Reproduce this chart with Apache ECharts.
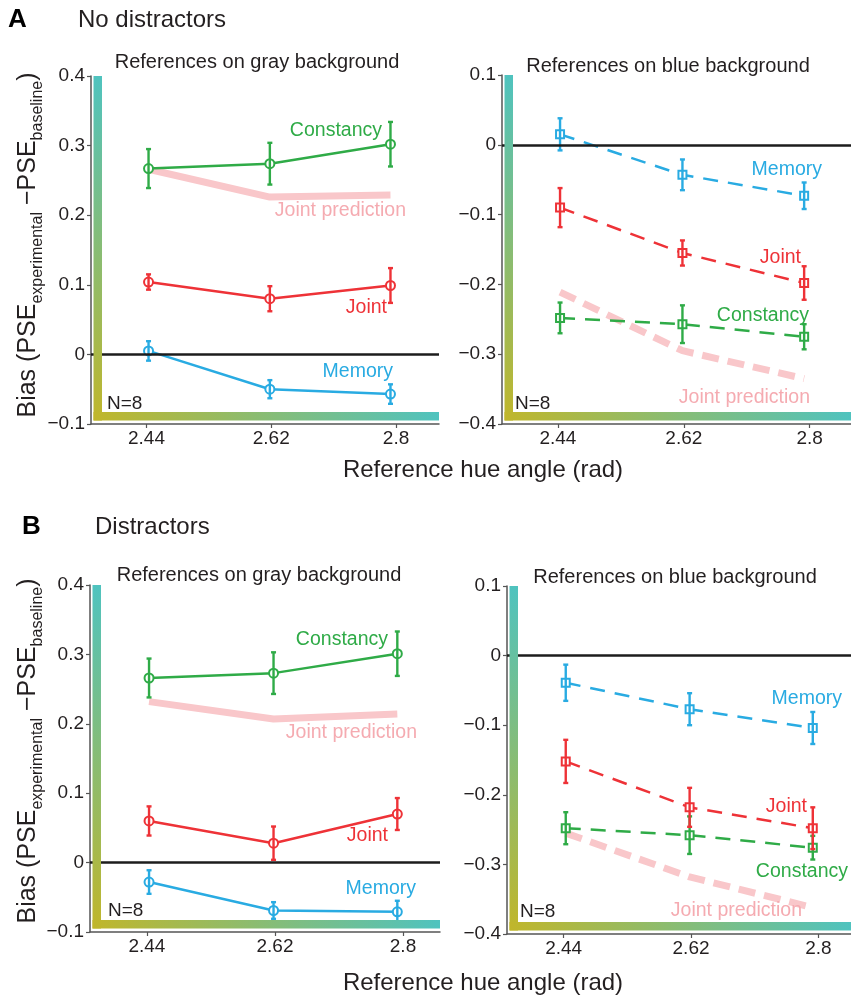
<!DOCTYPE html>
<html>
<head>
<meta charset="utf-8">
<script src="https://cdn.jsdelivr.net/npm/echarts@6/dist/echarts.min.js"></script>
<style>
html,body{margin:0;padding:0;background:#fff;}
#chart{width:851px;height:996px;}
</style>
</head>
<body>
<div id="chart"></div>
<script>
// ---------- data ----------
const hueAngles = [2.443, 2.618, 2.792];
const tickValues = [2.44, 2.62, 2.8];

// A: No distractors, gray background
const aGrayConstancy = [0.267, 0.274, 0.302];
const aGrayConstancyErr = [0.028, 0.030, 0.032];
const aGrayJoint = [0.104, 0.080, 0.099];
const aGrayJointErr = [0.011, 0.018, 0.025];
const aGrayMemory = [0.005, -0.050, -0.057];
const aGrayMemoryErr = [0.014, 0.013, 0.014];
const aGrayPrediction = [0.266, 0.226, 0.229];

// A: No distractors, blue background
const aBlueMemory = [0.015, -0.043, -0.073];
const aBlueMemoryErr = [0.023, 0.022, 0.019];
const aBlueJoint = [-0.090, -0.155, -0.198];
const aBlueJointErr = [0.028, 0.018, 0.024];
const aBlueConstancy = [-0.248, -0.257, -0.275];
const aBlueConstancyErr = [0.022, 0.027, 0.018];
const aBluePrediction = [-0.211, -0.295, -0.335];

// B: Distractors, gray background
const bGrayConstancy = [0.266, 0.273, 0.301];
const bGrayConstancyErr = [0.028, 0.030, 0.032];
const bGrayJoint = [0.060, 0.028, 0.070];
const bGrayJointErr = [0.021, 0.024, 0.023];
const bGrayMemory = [-0.028, -0.069, -0.071];
const bGrayMemoryErr = [0.017, 0.012, 0.016];
const bGrayPrediction = [0.232, 0.207, 0.214];

// B: Distractors, blue background
const bBlueMemory = [-0.039, -0.077, -0.104];
const bBlueMemoryErr = [0.026, 0.023, 0.023];
const bBlueJoint = [-0.152, -0.218, -0.248];
const bBlueJointErr = [0.031, 0.028, 0.030];
const bBlueConstancy = [-0.248, -0.258, -0.276];
const bBlueConstancyErr = [0.023, 0.027, 0.017];
const bBluePrediction = [-0.255, -0.318, -0.362];

// ---------- styles ----------
const FONT = 'Liberation Sans, Arial, Helvetica, sans-serif';
const C_GREEN = '#2fab47';
const C_RED = '#ee3237';
const C_CYAN = '#29abe2';
const C_PINK = '#f9c7ca';
const C_PINK_TXT = '#f5abb1';
const C_TEXT = '#231f20';
const C_AXIS = '#555';
const TEAL = '#4fc3bf';
const OLIVE = '#c0b62b';

const panels = [
  { rect: {left: 91, top: 76, width: 348, height: 348}, yMin: -0.1, yMax: 0.4, xMax: 2.862, dashed: false,
    constancy: [aGrayConstancy, aGrayConstancyErr], joint: [aGrayJoint, aGrayJointErr],
    memory: [aGrayMemory, aGrayMemoryErr], prediction: aGrayPrediction },
  { rect: {left: 502, top: 75, width: 349, height: 349}, yMin: -0.4, yMax: 0.1, xMax: 2.859, dashed: true,
    constancy: [aBlueConstancy, aBlueConstancyErr], joint: [aBlueJoint, aBlueJointErr],
    memory: [aBlueMemory, aBlueMemoryErr], prediction: aBluePrediction },
  { rect: {left: 90, top: 585, width: 350, height: 347}, yMin: -0.1, yMax: 0.4, xMax: 2.852, dashed: false,
    constancy: [bGrayConstancy, bGrayConstancyErr], joint: [bGrayJoint, bGrayJointErr],
    memory: [bGrayMemory, bGrayMemoryErr], prediction: bGrayPrediction },
  { rect: {left: 507, top: 586, width: 344, height: 348}, yMin: -0.4, yMax: 0.1, xMax: 2.846, dashed: true,
    constancy: [bBlueConstancy, bBlueConstancyErr], joint: [bBlueJoint, bBlueJointErr],
    memory: [bBlueMemory, bBlueMemoryErr], prediction: bBluePrediction }
];

function pairs(ys) { return ys.map((y, i) => [hueAngles[i], y]); }
function triples(ys, es) { return ys.map((y, i) => [hueAngles[i], y, es[i]]); }

function errorSeries(idx, ys, es, color) {
  return {
    type: 'custom', xAxisIndex: idx, yAxisIndex: idx, z: 4, silent: true,
    data: triples(ys, es),
    encode: {x: 0, y: 1},
    renderItem: function (params, api) {
      const x = api.value(0), y = api.value(1), e = api.value(2);
      const top = api.coord([x, y + e]);
      const bot = api.coord([x, y - e]);
      const cw = 2.5;
      const st = {stroke: color, lineWidth: 2.4};
      return {
        type: 'group',
        children: [
          {type: 'line', shape: {x1: top[0], y1: top[1], x2: bot[0], y2: bot[1]}, style: st},
          {type: 'line', shape: {x1: top[0] - cw, y1: top[1], x2: top[0] + cw, y2: top[1]}, style: st},
          {type: 'line', shape: {x1: bot[0] - cw, y1: bot[1], x2: bot[0] + cw, y2: bot[1]}, style: st}
        ]
      };
    }
  };
}

function lineSeries(idx, ys, color, dashed) {
  return {
    type: 'line', xAxisIndex: idx, yAxisIndex: idx, z: 3, silent: true,
    data: pairs(ys),
    symbol: dashed ? 'emptyRect' : 'emptyCircle',
    symbolSize: dashed ? 8 : 9,
    itemStyle: {color: color, borderColor: color, borderWidth: 2},
    lineStyle: {color: color, width: 2.5, type: dashed ? [15, 10] : 'solid'}
  };
}

const series = [];
panels.forEach((p, i) => {
  series.push({
    type: 'line', xAxisIndex: i, yAxisIndex: i, z: 1, silent: true,
    data: pairs(p.prediction), symbol: 'none',
    lineStyle: {color: C_PINK, width: 7, type: p.dashed ? [17, 9] : 'solid', cap: 'butt'},
    markLine: {
      silent: true, symbol: ['none', 'none'], animation: false,
      label: {show: false},
      lineStyle: {color: '#1d1d1d', width: 2.5, type: 'solid'},
      data: [{yAxis: 0}]
    }
  });
  series.push(lineSeries(i, p.constancy[0], C_GREEN, p.dashed));
  series.push(lineSeries(i, p.joint[0], C_RED, p.dashed));
  series.push(lineSeries(i, p.memory[0], C_CYAN, p.dashed));
  series.push(errorSeries(i, p.constancy[0], p.constancy[1], C_GREEN));
  series.push(errorSeries(i, p.joint[0], p.joint[1], C_RED));
  series.push(errorSeries(i, p.memory[0], p.memory[1], C_CYAN));
});

function yFmt(v) {
  const r = Math.round(v * 10) / 10;
  return r === 0 ? '0' : String(r).replace('-', '\u2212');
}

const option = {
  animation: false,
  backgroundColor: '#ffffff',
  grid: panels.map(p => Object.assign({containLabel: false}, p.rect)),
  xAxis: panels.map((p, i) => ({
    type: 'value', gridIndex: i, min: 2.36, max: p.xMax,
    axisLine: {show: true, onZero: false, lineStyle: {color: C_AXIS, width: 1.5}},
    axisTick: {show: true, inside: false, length: 4, customValues: tickValues, lineStyle: {color: C_AXIS, width: 1.2}},
    axisLabel: {customValues: tickValues, margin: 5, fontSize: 19, color: C_TEXT, fontFamily: FONT,
                formatter: v => String(v)},
    splitLine: {show: false}
  })),
  yAxis: panels.map((p, i) => ({
    type: 'value', gridIndex: i, min: p.yMin, max: p.yMax, interval: 0.1,
    axisLine: {show: true, onZero: false, lineStyle: {color: C_AXIS, width: 1.5}},
    axisTick: {show: true, inside: false, length: 4, lineStyle: {color: C_AXIS, width: 1.2}},
    axisLabel: {margin: 6, fontSize: 19, color: C_TEXT, fontFamily: FONT, formatter: yFmt},
    splitLine: {show: false}
  })),
  series: series
};

// ---------- decorations & annotations ----------
const graphics = [];
panels.forEach(p => {
  const r = p.rect;
  const bx = r.left + 2.5, bw = 8.5;
  const bottom = r.top + r.height;
  graphics.push({
    type: 'rect', z: 50, silent: true,
    shape: {x: bx, y: r.top, width: bw, height: r.height - 3.5},
    style: {fill: new echarts.graphic.LinearGradient(0, 0, 0, 1, [
      {offset: 0, color: TEAL}, {offset: 1, color: OLIVE}])}
  });
  graphics.push({
    type: 'rect', z: 50, silent: true,
    shape: {x: bx, y: bottom - 12, width: r.left + r.width - bx, height: bw},
    style: {fill: new echarts.graphic.LinearGradient(0, 0, 1, 0, [
      {offset: 0, color: OLIVE}, {offset: 1, color: TEAL}])}
  });
});

function txt(x, y, text, size, color, align, weight) {
  graphics.push({
    type: 'text', z: 60, silent: true, x: x, y: y,
    style: {text: text, fill: color, font: (weight || 'normal') + ' ' + size + 'px ' + FONT,
            align: align || 'center', verticalAlign: 'middle'}
  });
}

// headings
txt(8, 20, 'A', 26, '#000', 'left', 'bold');
txt(78, 20, 'No distractors', 24, C_TEXT, 'left');
txt(22, 527, 'B', 26, '#000', 'left', 'bold');
txt(95, 527, 'Distractors', 24, C_TEXT, 'left');

// panel subtitles
txt(257, 62, 'References on gray background', 20, C_TEXT);
txt(668, 66, 'References on blue background', 20, C_TEXT);
txt(259, 575, 'References on gray background', 20, C_TEXT);
txt(675, 577, 'References on blue background', 20, C_TEXT);

// x-axis titles
txt(483, 470, 'Reference hue angle (rad)', 24, C_TEXT);
txt(483, 983, 'Reference hue angle (rad)', 24, C_TEXT);

// y-axis titles
function yTitle(x, y) {
  graphics.push({
    type: 'text', z: 60, silent: true, x: x, y: y, rotation: Math.PI / 2,
    style: {
      text: '{a|Bias (PSE}{s|experimental}{a| \u2212PSE}{s|baseline}{a|)}',
      align: 'center', verticalAlign: 'middle', fill: C_TEXT,
      rich: {
        a: {fontSize: 25, fontFamily: FONT, fill: C_TEXT, lineHeight: 34, verticalAlign: 'bottom', padding: [0, 0, 5, 0]},
        s: {fontSize: 16, fontFamily: FONT, fill: C_TEXT, lineHeight: 20, verticalAlign: 'bottom'}
      }
    }
  });
}
yTitle(29, 245);
yTitle(29, 751);

// series annotations (right edge x, centre y)
// A gray
txt(382, 131, 'Constancy', 19.5, C_GREEN, 'right');
txt(406, 211, 'Joint prediction', 19.5, C_PINK_TXT, 'right');
txt(387, 308, 'Joint', 19.5, C_RED, 'right');
txt(393, 372, 'Memory', 19.5, C_CYAN, 'right');
txt(107, 404, 'N=8', 19, C_TEXT, 'left');
// A blue
txt(822, 170, 'Memory', 19.5, C_CYAN, 'right');
txt(801, 258, 'Joint', 19.5, C_RED, 'right');
txt(809, 316, 'Constancy', 19.5, C_GREEN, 'right');
txt(810, 398, 'Joint prediction', 19.5, C_PINK_TXT, 'right');
txt(515, 404, 'N=8', 19, C_TEXT, 'left');
// B gray
txt(388, 640, 'Constancy', 19.5, C_GREEN, 'right');
txt(417, 733, 'Joint prediction', 19.5, C_PINK_TXT, 'right');
txt(388, 836, 'Joint', 19.5, C_RED, 'right');
txt(416, 889, 'Memory', 19.5, C_CYAN, 'right');
txt(108, 911, 'N=8', 19, C_TEXT, 'left');
// B blue
txt(842, 699, 'Memory', 19.5, C_CYAN, 'right');
txt(807, 807, 'Joint', 19.5, C_RED, 'right');
txt(848, 872, 'Constancy', 19.5, C_GREEN, 'right');
txt(802, 911, 'Joint prediction', 19.5, C_PINK_TXT, 'right');
txt(520, 912, 'N=8', 19, C_TEXT, 'left');

option.graphic = {elements: graphics};

const chart = echarts.init(document.getElementById('chart'), null, {renderer: 'canvas'});
chart.setOption(option);
</script>
</body>
</html>
